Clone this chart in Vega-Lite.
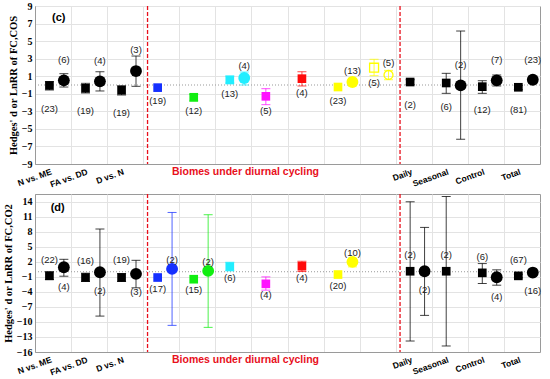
{
  "$schema": "https://vega.github.io/schema/vega-lite/v6.json",
  "padding": {"left": 2, "top": 0, "right": 5, "bottom": 0},
  "spacing": 2,
  "datasets": {
    "c": [
      {"x": 0.4, "y": -0.05, "lo": -0.57, "hi": 0.38, "s": "sq", "g": "k", "o": false, "n": "(23)", "ly": -2.73},
      {"x": 0.8, "y": 0.53, "lo": -0.23, "hi": 1.29, "s": "ci", "g": "k", "o": false, "n": "(6)", "ly": 2.81},
      {"x": 1.4, "y": -0.38, "lo": -0.91, "hi": 0.19, "s": "sq", "g": "k", "o": false, "n": "(19)", "ly": -2.96},
      {"x": 1.8, "y": 0.42, "lo": -0.68, "hi": 1.51, "s": "ci", "g": "k", "o": false, "n": "(4)", "ly": 2.73},
      {"x": 2.4, "y": -0.6, "lo": -1.14, "hi": -0.08, "s": "sq", "g": "k", "o": false, "n": "(19)", "ly": -3.15},
      {"x": 2.8, "y": 1.59, "lo": -0.15, "hi": 3.3, "s": "ci", "g": "k", "o": false, "n": "(3)", "ly": 4.02},
      {"x": 3.4, "y": -0.3, "lo": null, "hi": null, "s": "sq", "g": "b", "o": false, "n": "(19)", "ly": -1.82},
      {"x": 4.4, "y": -1.4, "lo": -1.82, "hi": -1.06, "s": "sq", "g": "g", "o": false, "n": "(12)", "ly": -2.96},
      {"x": 5.4, "y": 0.57, "lo": 0.23, "hi": 1.03, "s": "sq", "g": "c", "o": false, "n": "(13)", "ly": -0.99},
      {"x": 5.8, "y": 0.8, "lo": 0.0, "hi": 1.48, "s": "ci", "g": "c", "o": false, "n": "(4)", "ly": 2.16},
      {"x": 6.4, "y": -1.29, "lo": -2.24, "hi": -0.42, "s": "sq", "g": "m", "o": false, "n": "(5)", "ly": -2.96},
      {"x": 7.4, "y": 0.72, "lo": -0.11, "hi": 1.51, "s": "sq", "g": "r", "o": false, "n": "(4)", "ly": -0.95},
      {"x": 8.4, "y": -0.23, "lo": null, "hi": null, "s": "sq", "g": "y", "o": false, "n": "(23)", "ly": -1.82},
      {"x": 8.8, "y": 0.34, "lo": null, "hi": null, "s": "ci", "g": "y", "o": false, "n": "(13)", "ly": 1.63},
      {"x": 9.4, "y": 1.97, "lo": 1.06, "hi": 2.93, "s": "sq", "g": "y", "o": true, "n": "(5)", "ly": 0.26},
      {"x": 9.8, "y": 1.14, "lo": 0.6, "hi": 1.67, "s": "ci", "g": "y", "o": true, "n": "(5)", "ly": 2.47},
      {"x": 10.4, "y": 0.34, "lo": 0.04, "hi": 0.6, "s": "sq", "g": "k", "o": false, "n": "(2)", "ly": -2.28},
      {"x": 11.4, "y": 0.23, "lo": -0.95, "hi": 1.33, "s": "sq", "g": "k", "o": false, "n": "(6)", "ly": -2.51},
      {"x": 11.8, "y": -0.04, "lo": -6.18, "hi": 6.15, "s": "ci", "g": "k", "o": false, "n": "(2)", "ly": 2.28},
      {"x": 12.4, "y": -0.19, "lo": -0.95, "hi": 0.49, "s": "sq", "g": "k", "o": false, "n": "(12)", "ly": -2.85},
      {"x": 12.8, "y": 0.53, "lo": -0.11, "hi": 1.14, "s": "ci", "g": "k", "o": false, "n": "(7)", "ly": 2.81},
      {"x": 13.4, "y": -0.26, "lo": -0.53, "hi": -0.04, "s": "sq", "g": "k", "o": false, "n": "(81)", "ly": -2.85},
      {"x": 13.8, "y": 0.6, "lo": 0.23, "hi": 0.91, "s": "ci", "g": "k", "o": false, "n": "(23)", "ly": 2.88}
    ],
    "d": [
      {"x": 0.4, "y": -0.82, "lo": -1.55, "hi": 0.0, "s": "sq", "g": "k", "o": false, "n": "(22)", "ly": 2.4},
      {"x": 0.8, "y": 0.9, "lo": -0.89, "hi": 2.48, "s": "ci", "g": "k", "o": false, "n": "(4)", "ly": -3.0},
      {"x": 1.4, "y": -1.15, "lo": -1.95, "hi": -0.29, "s": "sq", "g": "k", "o": false, "n": "(16)", "ly": 2.17},
      {"x": 1.8, "y": -0.1, "lo": -8.84, "hi": 8.52, "s": "ci", "g": "k", "o": false, "n": "(2)", "ly": -3.87},
      {"x": 2.4, "y": -1.15, "lo": -1.95, "hi": -0.36, "s": "sq", "g": "k", "o": false, "n": "(19)", "ly": 2.28},
      {"x": 2.8, "y": -0.42, "lo": -3.2, "hi": 2.28, "s": "ci", "g": "k", "o": false, "n": "(3)", "ly": -4.13},
      {"x": 3.4, "y": -1.15, "lo": null, "hi": null, "s": "sq", "g": "b", "o": false, "n": "(17)", "ly": -3.4},
      {"x": 3.8, "y": 0.57, "lo": -10.69, "hi": 11.82, "s": "ci", "g": "b", "o": false, "n": "(2)", "ly": 2.28},
      {"x": 4.4, "y": -1.49, "lo": null, "hi": null, "s": "sq", "g": "g", "o": false, "n": "(15)", "ly": -3.67},
      {"x": 4.8, "y": 0.17, "lo": -11.09, "hi": 11.37, "s": "ci", "g": "g", "o": false, "n": "(2)", "ly": 2.03},
      {"x": 5.4, "y": 1.03, "lo": 0.17, "hi": 1.89, "s": "sq", "g": "c", "o": false, "n": "(6)", "ly": -1.29},
      {"x": 6.4, "y": -2.41, "lo": -3.67, "hi": -1.02, "s": "sq", "g": "m", "o": false, "n": "(4)", "ly": -4.6},
      {"x": 7.4, "y": 1.1, "lo": 0.04, "hi": 2.09, "s": "sq", "g": "r", "o": false, "n": "(4)", "ly": -1.29},
      {"x": 8.4, "y": -0.56, "lo": null, "hi": null, "s": "sq", "g": "y", "o": false, "n": "(20)", "ly": -2.88},
      {"x": 8.8, "y": 1.97, "lo": 0.97, "hi": 2.68, "s": "ci", "g": "y", "o": false, "n": "(10)", "ly": 3.75},
      {"x": 10.4, "y": 0.1, "lo": -13.81, "hi": 13.95, "s": "sq", "g": "k", "o": false, "n": "(2)", "ly": 3.28},
      {"x": 10.8, "y": 0.1, "lo": -8.7, "hi": 8.84, "s": "ci", "g": "k", "o": false, "n": "(2)", "ly": -3.54},
      {"x": 11.4, "y": 0.1, "lo": -14.8, "hi": 15.0, "s": "sq", "g": "k", "o": false, "n": "(2)", "ly": 3.28},
      {"x": 12.4, "y": -0.22, "lo": -2.34, "hi": 1.63, "s": "sq", "g": "k", "o": false, "n": "(6)", "ly": 2.88},
      {"x": 12.8, "y": -1.09, "lo": -2.68, "hi": 0.38, "s": "ci", "g": "k", "o": false, "n": "(4)", "ly": -4.99},
      {"x": 13.4, "y": -0.82, "lo": -1.21, "hi": -0.5, "s": "sq", "g": "k", "o": false, "n": "(67)", "ly": 2.42},
      {"x": 13.8, "y": -0.16, "lo": -0.76, "hi": 0.38, "s": "ci", "g": "k", "o": false, "n": "(16)", "ly": -3.74}
    ],
    "vl": [{"x": 3.12}, {"x": 10.12}]
  },
  "config": {
    "view": {"stroke": "#9a9a9a"},
    "axis": {"domainColor": "#9a9a9a", "gridColor": "#e3e3e3", "tickSize": 0},
    "text": {"font": "Liberation Sans", "fontSize": 9.5, "color": "#222222"}
  },
  "vconcat": [
    {
      "width": 505,
      "height": 158,
      "layer": [
        {"data": {"values": [{"z": 0}]}, "mark": {"type": "rule", "color": "#999999", "strokeDash": [1, 2], "strokeWidth": 1}, "encoding": {"y": {"field": "z", "type": "quantitative"}}},
        {"data": {"name": "vl"}, "mark": {"type": "rule", "color": "#e8101c", "strokeDash": [4, 2], "strokeWidth": 1.3}, "encoding": {"x": {"field": "x", "type": "quantitative"}}},
        {
          "data": {"name": "c"},
          "transform": [{"filter": "datum.lo != null"}],
          "mark": {"type": "errorbar", "ticks": {"size": 9}, "opacity": 0.75},
          "encoding": {
            "x": {"field": "x", "type": "quantitative"},
            "y": {"field": "lo", "type": "quantitative"},
            "y2": {"field": "hi"},
            "color": {"field": "g", "type": "nominal", "legend": null, "scale": {"domain": ["k", "b", "g", "c", "m", "r", "y"], "range": ["#000000", "#1530ff", "#11ee11", "#22eeff", "#ff11ff", "#ff0a0a", "#ffff00"]}}
          }
        },
        {
          "data": {"name": "c"},
          "transform": [{"filter": "datum.s == 'sq' && !datum.o"}],
          "mark": {"type": "square", "size": 75, "opacity": 1},
          "encoding": {"x": {"field": "x", "type": "quantitative"}, "y": {"field": "y", "type": "quantitative"}, "color": {"field": "g", "type": "nominal", "legend": null}}
        },
        {
          "data": {"name": "c"},
          "transform": [{"filter": "datum.s == 'ci' && !datum.o"}],
          "mark": {"type": "circle", "size": 140, "opacity": 1},
          "encoding": {"x": {"field": "x", "type": "quantitative"}, "y": {"field": "y", "type": "quantitative"}, "color": {"field": "g", "type": "nominal", "legend": null}}
        },
        {
          "data": {"name": "c"},
          "transform": [{"filter": "datum.o"}],
          "mark": {"type": "point", "filled": false, "size": 80, "strokeWidth": 1.3, "opacity": 1},
          "encoding": {"x": {"field": "x", "type": "quantitative"}, "y": {"field": "y", "type": "quantitative"}, "shape": {"field": "s", "type": "nominal", "legend": null, "scale": {"domain": ["sq", "ci"], "range": ["square", "circle"]}}, "color": {"field": "g", "type": "nominal", "legend": null}}
        },
        {
          "data": {"name": "c"},
          "mark": {"type": "text", "baseline": "middle", "align": "center"},
          "encoding": {"x": {"field": "x", "type": "quantitative"}, "y": {"field": "ly", "type": "quantitative"}, "text": {"field": "n"}}
        },
        {
          "data": {"values": [{"x": 0.66, "y": 7.6, "t": "(c)"}]},
          "mark": {"type": "text", "fontWeight": "bold", "fontSize": 11, "color": "#000000"},
          "encoding": {"x": {"field": "x", "type": "quantitative"}, "y": {"field": "y", "type": "quantitative"}, "text": {"field": "t"}}
        }
      ],
      "encoding": {
        "x": {"type": "quantitative", "scale": {"domain": [0, 14], "nice": false, "zero": false},
          "axis": {"values": [1, 2, 3, 4, 5, 6, 7, 8, 9, 10, 11, 12, 13, 0.4, 1.4, 2.4, 10.4, 11.4, 12.4, 13.4],
            "labelExpr": "datum.value == 0.4 ? 'N vs. ME' : datum.value == 1.4 ? 'FA vs. DD' : datum.value == 2.4 ? 'D vs. N' : datum.value == 10.4 ? 'Daily' : datum.value == 11.4 ? 'Seasonal' : datum.value == 12.4 ? 'Control' : datum.value == 13.4 ? 'Total' : ''",
            "labelAngle": -20, "labelAlign": "right", "labelBaseline": "top", "labelOverlap": false, "labelFlush": false, "labelPadding": 3,
            "labelFont": "Liberation Sans", "labelFontWeight": "bold", "labelFontSize": 8.5, "labelColor": "#000000",
            "gridOpacity": {"condition": {"test": "datum.value % 1 == 0", "value": 1}, "value": 0},
            "title": "Biomes under diurnal cycling", "titleColor": "#e8101c", "titleFont": "Liberation Sans", "titleFontWeight": "bold", "titleFontSize": 10.5,
            "titleX": 210, "titleY": 2, "titleBaseline": "top", "titleAlign": "center"}},
        "y": {"type": "quantitative", "scale": {"domain": [-9, 9], "nice": false, "zero": false},
          "axis": {"values": [-9, -7, -5, -3, -1, 1, 3, 5, 7, 9], "title": "Hedges' d or LnRR of FC,COS",
            "labelFont": "Liberation Serif", "labelFontWeight": "bold", "labelFontSize": 10, "labelColor": "#000000", "labelPadding": 3,
            "titleFont": "Liberation Serif", "titleFontWeight": "bold", "titleFontSize": 10.5, "titleColor": "#000000", "titlePadding": 3}}
      }
    },
    {
      "width": 505,
      "height": 158,
      "layer": [
        {"data": {"values": [{"z": 0}]}, "mark": {"type": "rule", "color": "#999999", "strokeDash": [1, 2], "strokeWidth": 1}, "encoding": {"y": {"field": "z", "type": "quantitative"}}},
        {"data": {"name": "vl"}, "mark": {"type": "rule", "color": "#e8101c", "strokeDash": [4, 2], "strokeWidth": 1.3}, "encoding": {"x": {"field": "x", "type": "quantitative"}}},
        {
          "data": {"name": "d"},
          "transform": [{"filter": "datum.lo != null"}],
          "mark": {"type": "errorbar", "ticks": {"size": 9}, "opacity": 0.75},
          "encoding": {
            "x": {"field": "x", "type": "quantitative"},
            "y": {"field": "lo", "type": "quantitative"},
            "y2": {"field": "hi"},
            "color": {"field": "g", "type": "nominal", "legend": null, "scale": {"domain": ["k", "b", "g", "c", "m", "r", "y"], "range": ["#000000", "#1530ff", "#11ee11", "#22eeff", "#ff11ff", "#ff0a0a", "#ffff00"]}}
          }
        },
        {
          "data": {"name": "d"},
          "transform": [{"filter": "datum.s == 'sq'"}],
          "mark": {"type": "square", "size": 75, "opacity": 1},
          "encoding": {"x": {"field": "x", "type": "quantitative"}, "y": {"field": "y", "type": "quantitative"}, "color": {"field": "g", "type": "nominal", "legend": null}}
        },
        {
          "data": {"name": "d"},
          "transform": [{"filter": "datum.s == 'ci'"}],
          "mark": {"type": "circle", "size": 140, "opacity": 1},
          "encoding": {"x": {"field": "x", "type": "quantitative"}, "y": {"field": "y", "type": "quantitative"}, "color": {"field": "g", "type": "nominal", "legend": null}}
        },
        {
          "data": {"name": "d"},
          "mark": {"type": "text", "baseline": "middle", "align": "center"},
          "encoding": {"x": {"field": "x", "type": "quantitative"}, "y": {"field": "ly", "type": "quantitative"}, "text": {"field": "n"}}
        },
        {
          "data": {"values": [{"x": 0.63, "y": 12.7, "t": "(d)"}]},
          "mark": {"type": "text", "fontWeight": "bold", "fontSize": 11, "color": "#000000"},
          "encoding": {"x": {"field": "x", "type": "quantitative"}, "y": {"field": "y", "type": "quantitative"}, "text": {"field": "t"}}
        }
      ],
      "encoding": {
        "x": {"type": "quantitative", "scale": {"domain": [0, 14], "nice": false, "zero": false},
          "axis": {"values": [1, 2, 3, 4, 5, 6, 7, 8, 9, 10, 11, 12, 13, 0.4, 1.4, 2.4, 10.4, 11.4, 12.4, 13.4],
            "labelExpr": "datum.value == 0.4 ? 'N vs. ME' : datum.value == 1.4 ? 'FA vs. DD' : datum.value == 2.4 ? 'D vs. N' : datum.value == 10.4 ? 'Daily' : datum.value == 11.4 ? 'Seasonal' : datum.value == 12.4 ? 'Control' : datum.value == 13.4 ? 'Total' : ''",
            "labelAngle": -20, "labelAlign": "right", "labelBaseline": "top", "labelOverlap": false, "labelFlush": false, "labelPadding": 3,
            "labelFont": "Liberation Sans", "labelFontWeight": "bold", "labelFontSize": 8.5, "labelColor": "#000000",
            "gridOpacity": {"condition": {"test": "datum.value % 1 == 0", "value": 1}, "value": 0},
            "title": "Biomes under diurnal cycling", "titleColor": "#e8101c", "titleFont": "Liberation Sans", "titleFontWeight": "bold", "titleFontSize": 10.5,
            "titleX": 210, "titleY": 2, "titleBaseline": "top", "titleAlign": "center"}},
        "y": {"type": "quantitative", "scale": {"domain": [-16, 15.5], "nice": false, "zero": false},
          "axis": {"values": [-16, -13, -10, -7, -4, -1, 2, 5, 8, 11, 14], "title": "Hedges' d or LnRR of FC,CO2",
            "labelFont": "Liberation Serif", "labelFontWeight": "bold", "labelFontSize": 10, "labelColor": "#000000", "labelPadding": 3,
            "titleFont": "Liberation Serif", "titleFontWeight": "bold", "titleFontSize": 10.5, "titleColor": "#000000", "titlePadding": 3}}
      }
    }
  ]
}
